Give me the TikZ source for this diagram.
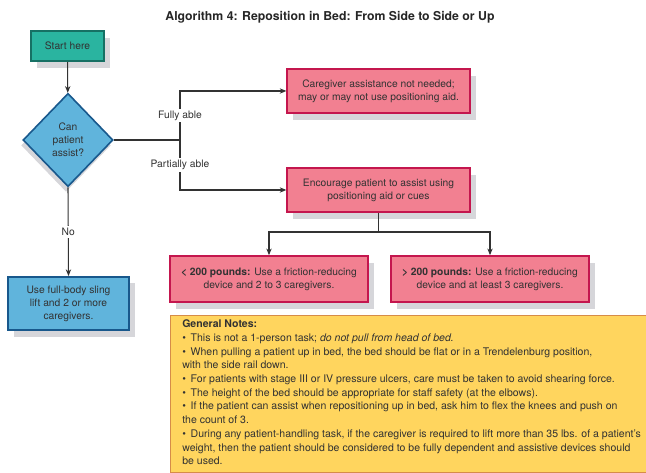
\documentclass[tikz,border=0pt]{standalone}
\usepackage{fontspec}
\setmainfont{TeX Gyre Heros}
\usetikzlibrary{shapes.geometric,shadows,arrows.meta}

\definecolor{tealbox}{RGB}{42,180,160}
\definecolor{tealedge}{RGB}{22,112,100}
\definecolor{pinkbox}{RGB}{242,128,145}
\definecolor{pinkedge}{RGB}{196,22,78}
\definecolor{bluebox}{RGB}{96,180,220}
\definecolor{blueedge}{RGB}{24,88,140}
\definecolor{notefill}{RGB}{255,213,94}
\definecolor{noteedge}{RGB}{214,140,72}
\definecolor{shade}{RGB}{214,214,218}
\definecolor{ink}{RGB}{50,50,50}

\newcommand{\notebullet}{\textbullet\hspace{0.45em}}

\begin{document}
\begin{tikzpicture}
[
x=0.75pt, y=-0.75pt,
font=\fontsize{7.7}{9.7}\selectfont,
>={Stealth[length=5pt,width=4pt]},
line/.style={draw=ink, line width=0.8pt},
lbl/.style={fill=white, text=ink, inner sep=1.5pt},
box/.style={rectangle, align=center, text=ink, line width=1.2pt, inner sep=2pt,
  drop shadow={shadow xshift=4.5pt, shadow yshift=-5pt, fill=shade, opacity=1}},
startbox/.style={box, fill=tealbox, draw=tealedge, minimum width=55pt, minimum height=22.5pt},
actbox/.style={box, fill=pinkbox, draw=pinkedge, minimum width=137pt, minimum height=33pt},
weightbox/.style={box, fill=pinkbox, draw=pinkedge, minimum width=148.5pt, minimum height=34.5pt},
slingbox/.style={box, fill=bluebox, draw=blueedge, minimum width=91pt, minimum height=40pt},
question/.style={diamond, align=center, text=ink, fill=bluebox, draw=blueedge, line width=1.2pt,
  inner sep=0pt, minimum width=67.5pt, minimum height=70pt,
  drop shadow={shadow xshift=-1.5pt, shadow yshift=-4pt, fill=shade, opacity=1}},
notebox/.style={rectangle, fill=notefill, draw=noteedge, line width=0.9pt},
notetext/.style={align=left, text=ink, inner sep=0pt, font=\fontsize{7.9}{10.3}\selectfont}
]
\useasboundingbox (0,0) rectangle (646,473);

\node[font=\bfseries\fontsize{9.2}{11}\selectfont, text=black!85] (title) at (330,17)
  {Algorithm 4: Reposition in Bed: From Side to Side or Up};

% flow chart boxes
\node[startbox] (start) at (67.5,46) {Start here};
\node[question] (ask) at (68,140) {Can\\patient\\assist?};
\node[actbox] (noaid) at (378.5,91) {Caregiver assistance not needed;\\may or may not use positioning aid.};
\node[actbox] (encourage) at (378.5,190) {Encourage patient to assist using\\positioning aid or cues};
\node[weightbox] (light) at (269,279) {\textbf{< 200 pounds:} Use a friction-reducing\\device and 2 to 3 caregivers.};
\node[weightbox] (heavy) at (490,279) {\textbf{> 200 pounds:} Use a friction-reducing\\device and at least 3 caregivers.};
\node[slingbox] (sling) at (68.5,303.5) {Use full-body sling\\lift and 2 or more\\caregivers.};

\coordinate (fork) at (180,140);
\coordinate (split) at (378.5,232);

% connectors
\draw[line,->] (start) -- (ask);
\draw[line] (ask.east) -- (fork);
\draw[line,->] (fork) |- node[lbl,pos=0.25] {Fully able} (noaid.west);
\draw[line,->] (fork) |- node[lbl,pos=0.25] {Partially able} (encourage.west);
\draw[line,->] (ask.south) -- node[lbl] {No} (sling.north);
\draw[line,->] (encourage.south) -- (split) -| (light.north);
\draw[line,->] (split) -| (heavy.north);

% general notes
\node[notebox, anchor=north west, minimum width=357pt, minimum height=118pt] (notes) at (170,315) {};
\node[notetext, anchor=north west] (notetext) at (182,319.5) {%
\textbf{General Notes:}\\
\notebullet This is not a 1-person task; \textit{do not pull from head of bed.}\\
\notebullet When pulling a patient up in bed, the bed should be flat or in a Trendelenburg position,\\
with the side rail down.\\
\notebullet For patients with stage III or IV pressure ulcers, care must be taken to avoid shearing force.\\
\notebullet The height of the bed should be appropriate for staff safety (at the elbows).\\
\notebullet If the patient can assist when repositioning up in bed, ask him to flex the knees and push on\\
the count of 3.\\
\notebullet During any patient-handling task, if the caregiver is required to lift more than 35 lbs. of a patient's\\
weight, then the patient should be considered to be fully dependent and assistive devices should\\
be used.};
\end{tikzpicture}
\end{document}
